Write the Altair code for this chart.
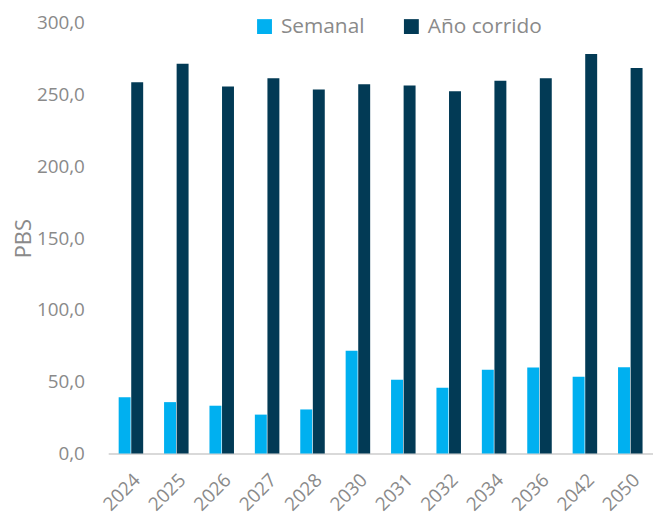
import altair as alt
import pandas as pd

years = ["2024", "2025", "2026", "2027", "2028", "2030", "2031", "2032", "2034", "2036", "2042", "2050"]
semanal = [39.2, 35.8, 33.3, 27.1, 30.7, 71.6, 51.4, 45.9, 58.3, 59.9, 53.5, 60.1]
ano_corrido = [258.6, 271.6, 255.6, 261.5, 253.5, 257.2, 256.3, 252.3, 259.7, 261.5, 278.3, 268.6]
series = ["Semanal", "Año corrido"]
colors = ["#00B0F0", "#023A55"]
y_ticks = [0, 50, 100, 150, 200, 250, 300]

rows = []
for i, yr in enumerate(years):
    rows.append({"year": yr, "serie": series[0], "value": semanal[i]})
    rows.append({"year": yr, "serie": series[1], "value": ano_corrido[i]})
df = pd.DataFrame(rows)

FONT = "Open Sans"
GRAY = "#8a8a8a"

chart = alt.Chart(df).mark_bar().encode(
    x=alt.X("year:N", sort=years,
            scale=alt.Scale(paddingInner=0.46, paddingOuter=0.23),
            axis=alt.Axis(title=None, labelAngle=-45, labelFontSize=19, labelColor=GRAY,
                          labelFont=FONT, ticks=False, domainColor="#d9d9d9", domainWidth=2,
                          labelPadding=17)),
    xOffset=alt.XOffset("serie:N", sort=series, scale=alt.Scale(paddingInner=0.05)),
    y=alt.Y("value:Q", scale=alt.Scale(domain=[0, 300], nice=False),
            axis=alt.Axis(title="PBS", values=y_ticks, grid=False, domain=False, ticks=False,
                          labelExpr="replace(format(datum.value, '.1f'), '.', ',')",
                          labelFontSize=19, labelColor=GRAY, labelFont=FONT, labelPadding=24,
                          titleFontSize=22, titleColor=GRAY, titleFont=FONT,
                          titleFontWeight="normal", titlePadding=1)),
    color=alt.Color("serie:N", sort=series,
                    scale=alt.Scale(domain=series, range=colors),
                    legend=alt.Legend(title=None, orient="none", direction="horizontal",
                                      legendX=147, legendY=-7, symbolType="square",
                                      symbolSize=225, symbolStrokeWidth=0, labelFontSize=21,
                                      labelColor=GRAY, labelFont=FONT, columnPadding=36,
                                      labelOffset=6, padding=0)),
).properties(
    width=549, height=434, padding={"left": 4, "top": 4, "right": 0, "bottom": 0}
).configure_view(stroke=None)

chart.save("out.html", embed_options={"renderer": "svg", "actions": False})
